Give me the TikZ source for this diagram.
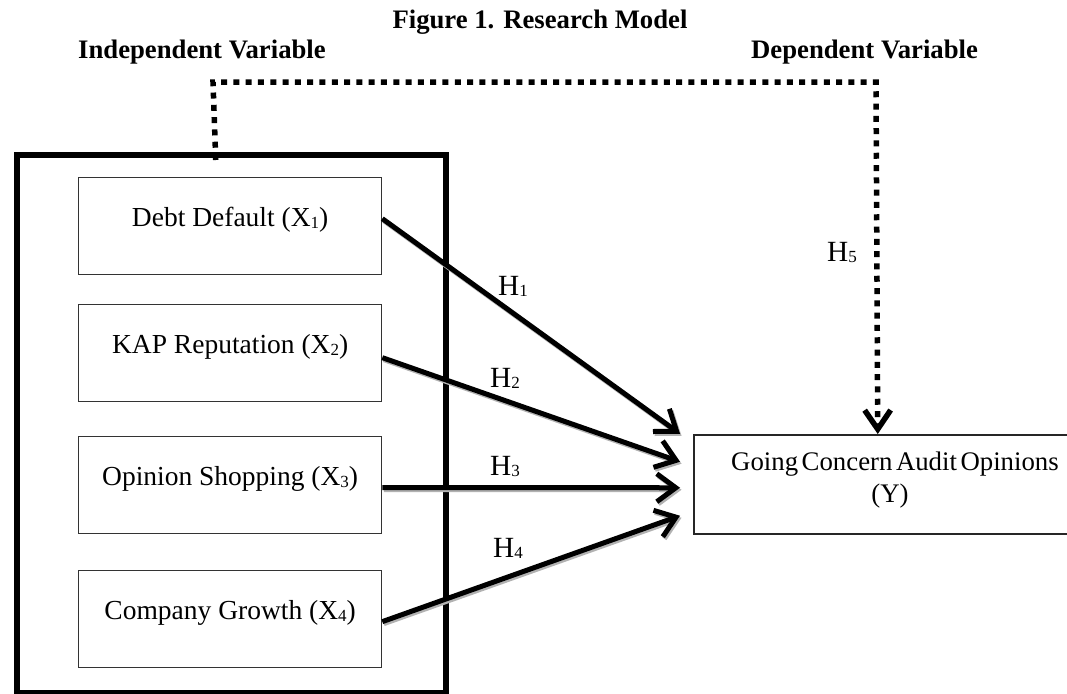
\documentclass[tikz,border=0pt]{standalone}
\usepackage{fontspec}
\setmainfont{Liberation Serif}
\usetikzlibrary{arrows.meta}
\newcommand\subdig[1]{\raisebox{-1.5pt}{\fontsize{17}{17}\selectfont #1}}
\begin{document}
\begin{tikzpicture}[x=1pt,y=-1pt,
  headtext/.style={font=\bfseries\fontsize{26.7}{30}\selectfont, inner sep=0pt},
  boxtext/.style={font=\fontsize{26.8}{30}\selectfont, inner sep=0pt},
  hlabel/.style={font=\fontsize{29.3}{32}\selectfont, inner sep=0pt},
  varbox/.style={draw=black!80, line width=1.3pt, minimum width=303pt, inner sep=0pt,
    text height=49pt, text depth=48pt, font=\fontsize{27.5}{30}\selectfont, anchor=north west},
  groupbox/.style={draw=black, line width=5.5pt, inner sep=0pt, anchor=north west},
  depbox/.style={draw=black!85, line width=1.5pt, inner sep=0pt, anchor=north west},
  hyparrow/.style={line width=5pt, line join=round,
    -{Straight Barb[length=19pt,width=28pt]},
    preaction={draw=black!30, line width=5pt, transform canvas={xshift=1.5pt,yshift=-2pt}}},
  dotline/.style={line width=5.5pt, dash pattern=on 6pt off 6.3pt,
    -{Straight Barb[length=19pt,width=26pt]}}
]
\useasboundingbox (0,0) rectangle (1067,693);

% headings
\node[headtext, anchor=base] (title) at (540,29) {Figure 1. Research Model};
\node[headtext, anchor=base west] (ivlabel) at (78,59) {Independent Variable};
\node[headtext, anchor=base west] (dvlabel) at (751,59) {Dependent Variable};

% independent variable group
\node[groupbox, minimum width=429pt, minimum height=538pt] (iv) at (14,152) {};
\node[varbox] (x1) at (78,177) {Debt Default (X\subdig{1})};
\node[varbox] (x2) at (78,304) {KAP Reputation (X\subdig{2})};
\node[varbox] (x3) at (78,436) {Opinion Shopping (X\subdig{3})};
\node[varbox] (x4) at (78,570) {Company Growth (X\subdig{4})};

% dependent variable
\node[depbox, minimum width=404pt, minimum height=99pt] (gc) at (693,434) {};
\node[boxtext, anchor=base] (gctext) at (895,470) {\spaceskip=3.5pt plus 1pt\relax Going Concern Audit Opinions};
\node[boxtext, anchor=base] (gcy) at (890,502) {(Y)};

% dotted connector
\coordinate (c1) at (213,82);
\coordinate (c2) at (876,82);
\draw[dotline] ([xshift=-15.5pt,yshift=-8pt]iv.north) -- (c1) -- (c2) -- ([xshift=-18pt]gc.north);

% hypothesis arrows
\draw[hyparrow] ([yshift=7.5pt]x1.east) -- ([xshift=-13pt,yshift=50.5pt]gc.west);
\draw[hyparrow] ([yshift=-4.5pt]x2.east) -- ([xshift=-13pt,yshift=22.5pt]gc.west);
\draw[hyparrow] ([yshift=-2.5pt]x3.east) -- ([xshift=-13pt,yshift=-3.5pt]gc.west);
\draw[hyparrow] ([yshift=-2.5pt]x4.east) -- ([xshift=-13pt,yshift=-31.5pt]gc.west);

% labels
\node[hlabel, anchor=base west] (h1) at (498,295) {H\subdig{1}};
\node[hlabel, anchor=base west] (h2) at (490,387) {H\subdig{2}};
\node[hlabel, anchor=base west] (h3) at (490,475) {H\subdig{3}};
\node[hlabel, anchor=base west] (h4) at (493,557) {H\subdig{4}};
\node[hlabel, anchor=base west] (h5) at (827,261) {H\subdig{5}};
\end{tikzpicture}
\end{document}
